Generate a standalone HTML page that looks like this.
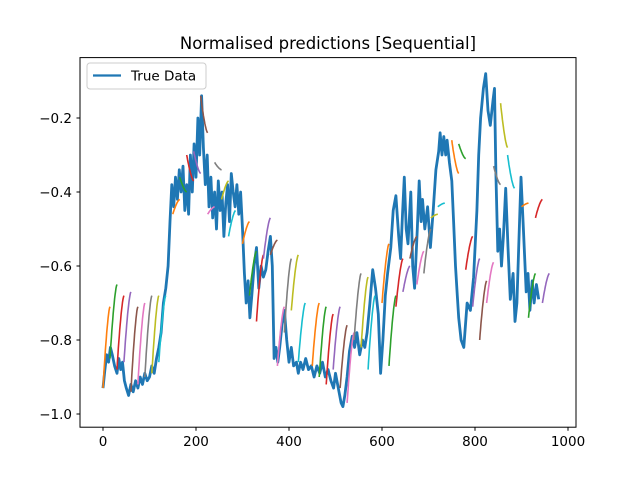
<!DOCTYPE html>
<html><head><meta charset="utf-8"><style>
body{margin:0;background:#fff;}
svg text{font-family:"DejaVu Sans","Liberation Sans",sans-serif;}
</style></head><body>
<svg id="chart" width="640" height="480" viewBox="0 0 640 480" xmlns="http://www.w3.org/2000/svg">
<rect width="640" height="480" fill="#fff"/>
<text x="328" y="49" text-anchor="middle" font-size="16.5">Normalised predictions [Sequential]</text>
<g id="plot"></g>
<rect x="80" y="57.6" width="496" height="369.6" fill="none" stroke="#000" stroke-width="1"/>
<g id="axes"></g>
<g>
<rect x="87" y="63" width="119" height="26" rx="3" fill="#fff" fill-opacity="0.8" stroke="#ccc"/>
<line x1="93" y1="75.5" x2="121" y2="75.5" stroke="#1f77b4" stroke-width="2.2"/>
<text x="131" y="80.5" font-size="13.5">True Data</text>
</g>
</svg>
<script>
const xs=[0,4,8,12,16,20,25,30,34,38,42,46,50,55,60,65,70,75,80,85,90,95,100,105,110,115,120,125,130,135,140,144,148,152,156,160,164,168,172,176,180,184,188,192,196,200,204,208,212,216,220,224,228,232,236,240,244,248,252,256,260,264,268,272,276,280,284,288,292,296,300,304,308,312,316,320,325,330,335,340,345,350,355,360,364,368,372,376,380,385,390,395,400,405,410,416,420,425,430,436,442,448,454,460,466,472,478,484,490,496,500,506,512,516,520,525,530,536,541,546,552,558,563,568,574,580,586,592,597,602,607,612,619,624,630,636,640,644,648,652,656,662,666,670,676,680,684,687,692,698,704,710,716,722,725,729,733,737,740,745,750,754,758,762,765,770,776,783,790,797,804,808,812,818,823,828,833,839,842,845,849,853,857,861,866,871,876,882,886,890,894,899,904,910,914,918,923,927,932,937,942,946,950,955,959];
const ys=[-0.93,-0.88,-0.84,-0.86,-0.82,-0.84,-0.87,-0.89,-0.85,-0.88,-0.86,-0.91,-0.93,-0.95,-0.92,-0.94,-0.91,-0.93,-0.90,-0.92,-0.89,-0.91,-0.90,-0.87,-0.89,-0.85,-0.82,-0.78,-0.70,-0.66,-0.60,-0.48,-0.38,-0.44,-0.36,-0.42,-0.34,-0.40,-0.33,-0.45,-0.38,-0.46,-0.30,-0.40,-0.27,-0.36,-0.20,-0.30,-0.14,-0.28,-0.38,-0.30,-0.44,-0.36,-0.47,-0.40,-0.50,-0.37,-0.45,-0.40,-0.52,-0.43,-0.38,-0.48,-0.35,-0.40,-0.44,-0.38,-0.46,-0.40,-0.50,-0.62,-0.70,-0.64,-0.74,-0.68,-0.60,-0.55,-0.66,-0.60,-0.63,-0.61,-0.56,-0.52,-0.60,-0.85,-0.82,-0.86,-0.82,-0.76,-0.72,-0.80,-0.86,-0.82,-0.87,-0.86,-0.89,-0.86,-0.88,-0.85,-0.88,-0.87,-0.90,-0.87,-0.89,-0.86,-0.90,-0.88,-0.91,-0.93,-0.89,-0.93,-0.97,-0.98,-0.95,-0.90,-0.83,-0.79,-0.82,-0.78,-0.84,-0.80,-0.82,-0.78,-0.70,-0.61,-0.66,-0.73,-0.89,-0.80,-0.68,-0.62,-0.55,-0.45,-0.41,-0.52,-0.58,-0.46,-0.36,-0.50,-0.54,-0.40,-0.60,-0.66,-0.50,-0.37,-0.48,-0.42,-0.50,-0.44,-0.55,-0.45,-0.34,-0.29,-0.24,-0.30,-0.25,-0.30,-0.26,-0.32,-0.37,-0.48,-0.60,-0.68,-0.74,-0.80,-0.82,-0.70,-0.72,-0.63,-0.45,-0.30,-0.20,-0.12,-0.08,-0.18,-0.22,-0.15,-0.12,-0.35,-0.56,-0.50,-0.60,-0.52,-0.39,-0.55,-0.69,-0.62,-0.75,-0.70,-0.55,-0.36,-0.50,-0.67,-0.62,-0.72,-0.64,-0.70,-0.65,-0.69];
const predStartIdx=[0,15,30,45,60,75,90,105,120,150,165,180,195,210,225,240,255,270,300,315,330,345,360,375,390,405,420,450,465,480,495,510,525,540,555,570,600,615,630,645,660,675,690,705,720,750,765,780,795,810,825,840,855,870,900,915,930,945];
const predStartVal=[-0.93,-0.85,-0.88,-0.86,-0.94,-0.92,-0.90,-0.89,-0.86,-0.46,-0.36,-0.30,-0.29,-0.14,-0.46,-0.32,-0.42,-0.52,-0.54,-0.68,-0.75,-0.58,-0.57,-0.87,-0.78,-0.72,-0.86,-0.87,-0.90,-0.92,-0.88,-0.93,-0.97,-0.80,-0.82,-0.88,-0.70,-0.87,-0.71,-0.67,-0.58,-0.65,-0.62,-0.47,-0.44,-0.26,-0.27,-0.61,-0.71,-0.80,-0.70,-0.33,-0.16,-0.30,-0.44,-0.74,-0.47,-0.70];
const predEndVal=[-0.71,-0.65,-0.68,-0.67,-0.71,-0.70,-0.68,-0.68,-0.68,-0.42,-0.40,-0.37,-0.35,-0.24,-0.44,-0.34,-0.37,-0.45,-0.48,-0.56,-0.57,-0.47,-0.53,-0.71,-0.58,-0.57,-0.70,-0.70,-0.71,-0.73,-0.71,-0.76,-0.78,-0.62,-0.63,-0.68,-0.54,-0.68,-0.58,-0.60,-0.52,-0.56,-0.50,-0.46,-0.43,-0.35,-0.31,-0.52,-0.58,-0.64,-0.59,-0.38,-0.28,-0.39,-0.43,-0.62,-0.42,-0.62];
const predColorIdx=[1,2,3,4,5,6,7,8,9,1,2,3,4,5,6,7,8,9,1,2,3,4,5,6,7,8,9,1,2,3,4,5,6,7,8,9,1,2,3,4,5,6,7,8,9,1,2,3,4,5,6,7,8,9,1,2,3,4];
const xTicks=[0,200,400,600,800,1000];
const yTicks=[-1.0,-0.8,-0.6,-0.4,-0.2];
const palette=['#1f77b4','#ff7f0e','#2ca02c','#d62728','#9467bd','#8c564b','#e377c2','#7f7f7f','#bcbd22','#17becf'];
const X=v=>103+v*0.465;
const Y=v=>414-(v+1.0)*370;
const NS='http://www.w3.org/2000/svg';
const plot=document.getElementById('plot'), axes=document.getElementById('axes');
let d=xs.map((x,i)=>(i?'L':'M')+X(x).toFixed(1)+' '+Y(ys[i]).toFixed(1)).join(' ');
const tl=document.createElementNS(NS,'path');
tl.setAttribute('d',d);tl.setAttribute('fill','none');tl.setAttribute('stroke','#1f77b4');tl.setAttribute('stroke-width','2.8');tl.setAttribute('stroke-linejoin','round');


plot.appendChild(tl);
predStartIdx.forEach((s,k)=>{
  const a=predStartVal[k], b=predEndVal[k]; let pd='';
  for(let j=0;j<=15;j++){const t=j/15;const v=a+(b-a)*(1-Math.pow(1-t,1.5));pd+=(j?'L':'M')+X(s+j).toFixed(1)+' '+Y(v).toFixed(1)+' ';}
  const p=document.createElementNS(NS,'path');
  p.setAttribute('d',pd);p.setAttribute('fill','none');p.setAttribute('stroke',palette[predColorIdx[k]]);p.setAttribute('stroke-width','1.6');
  
  
  plot.appendChild(p);
});
xTicks.forEach(t=>{
  const g=document.createElementNS(NS,'g');
  
  
  g.innerHTML=`<line x1="${X(t)}" y1="427.2" x2="${X(t)}" y2="430.7" stroke="#000"/><text x="${X(t)}" y="446" text-anchor="middle" font-size="13.5">${t}</text>`;
  axes.appendChild(g);
});
yTicks.forEach(t=>{
  const g=document.createElementNS(NS,'g');
  
  
  g.innerHTML=`<line x1="76.5" y1="${Y(t)}" x2="80" y2="${Y(t)}" stroke="#000"/><text x="72" y="${Y(t)+5}" text-anchor="end" font-size="13.5">\u2212${Math.abs(t).toFixed(1)}</text>`;
  axes.appendChild(g);
});
</script>
</body></html>
